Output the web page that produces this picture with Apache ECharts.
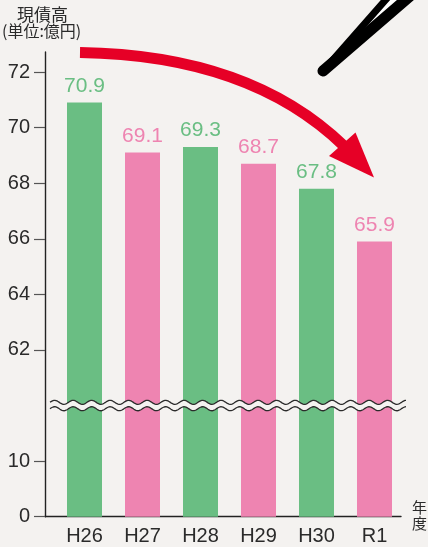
<!DOCTYPE html>
<html>
<head>
<meta charset="utf-8">
<script src="https://cdn.jsdelivr.net/npm/echarts@6/dist/echarts.min.js"></script>
<style>
  html, body { margin: 0; padding: 0; background: #f4f2f0; }
  #chart { width: 428px; height: 547px; }
</style>
</head>
<body>
<div id="chart"></div>
<script>
// ---- data ----
const categories = ['H26', 'H27', 'H28', 'H29', 'H30', 'R1'];
const values = [70.9, 69.1, 69.3, 68.7, 67.8, 65.9];
const barColors = ['#6abe83', '#ee84b1', '#6abe83', '#ee84b1', '#6abe83', '#ee84b1'];
const yTickValues = [0, 10, 62, 64, 66, 68, 70, 72];
const yTitle = ['現債高', '(単位:億円)'];
const xTitle = ['年', '度'];

// ---- broken-axis mapping (lower part 0..10, upper part 62..) ----
const LOW_TOP = 10, UP_BASE = 62, UP_POS = 30, UP_SCALE = 5, BREAK_POS = 20;
function toAxis(v) { return v <= LOW_TOP ? v : UP_POS + UP_SCALE * (v - UP_BASE); }
function fromAxis(d) { return d <= LOW_TOP ? d : UP_BASE + (d - UP_POS) / UP_SCALE; }

const BG = '#f4f2f0';
const chart = echarts.init(document.getElementById('chart'), null, { renderer: 'canvas' });

const barData = values.map((v, i) => ({
  value: [i, toAxis(v)],
  itemStyle: { color: barColors[i] },
  label: { color: barColors[i] }
}));

const option = {
  backgroundColor: BG,
  animation: false,
  grid: { left: 45, right: 27, top: 52, bottom: 30.3, containLabel: false },
  xAxis: {
    type: 'value',
    min: -0.681,
    max: 5.457,
    axisLine: { show: true, onZero: false, lineStyle: { color: '#222', width: 1.4 } },
    axisTick: { show: false },
    splitLine: { show: false },
    axisLabel: {
      customValues: categories.map((c, i) => i),
      formatter: v => categories[Math.round(v)],
      fontFamily: 'Liberation Sans, Arial, sans-serif',
      fontSize: 20,
      color: '#2a2a2a',
      margin: 10
    }
  },
  yAxis: {
    type: 'value',
    min: 0,
    max: 83.6,
    axisLine: { show: true, onZero: false, lineStyle: { color: '#222', width: 1.4 } },
    axisTick: {
      show: true, length: 11, customValues: yTickValues.map(toAxis),
      lineStyle: { color: '#555', width: 1.2 }
    },
    splitLine: { show: false },
    axisLabel: {
      customValues: yTickValues.map(toAxis),
      formatter: d => String(Math.round(fromAxis(d))),
      fontFamily: 'Liberation Sans, Arial, sans-serif',
      fontSize: 20,
      color: '#2a2a2a',
      margin: 15
    }
  },
  series: [
    {
      type: 'bar',
      barWidth: 35,
      data: barData,
      label: {
        show: true,
        position: 'top',
        distance: 6,
        formatter: p => values[p.dataIndex].toFixed(1),
        fontFamily: 'Liberation Sans, Arial, sans-serif',
        fontSize: 21
      },
      z: 2
    },
    {
      type: 'custom',
      clip: false,
      z: 5,
      data: [[0, BREAK_POS]],
      renderItem: function (params, api) {
        const yc = api.coord([0, BREAK_POS])[1];
        const xs = api.coord([-0.595, 0])[0];
        const xe = api.coord([5.56, 0])[0];
        const period = 18.5, amp = 2, half = 3.2;
        const up = [], lo = [];
        for (let x = xs; x <= xe + 0.01; x += 1) {
          const w = amp * Math.sin((x - xs) / period * 2 * Math.PI + Math.PI);
          up.push([x, yc - half + w]);
          lo.push([x, yc + half + w]);
        }
        return {
          type: 'group',
          children: [
            { type: 'polygon', shape: { points: up.concat(lo.slice().reverse()) }, style: { fill: BG } },
            { type: 'polyline', shape: { points: up }, style: { stroke: '#2b2b2b', lineWidth: 1.3, fill: null } },
            { type: 'polyline', shape: { points: lo }, style: { stroke: '#2b2b2b', lineWidth: 1.3, fill: null } }
          ]
        };
      }
    }
  ],
  graphic: [
    { type: 'text', left: 17, top: 6, style: { text: yTitle[0], font: '17px "Noto Sans CJK JP", sans-serif', fill: '#2a2a2a' } },
    { type: 'text', left: 2, top: 23, style: { text: yTitle[1], font: '16px "Noto Sans CJK JP", sans-serif', fill: '#2a2a2a' } },
    { type: 'text', left: 412, top: 500, style: { text: xTitle[0], font: '15px "Noto Sans CJK JP", sans-serif', fill: '#2a2a2a' } },
    { type: 'text', left: 412, top: 516, style: { text: xTitle[1], font: '15px "Noto Sans CJK JP", sans-serif', fill: '#2a2a2a' } },
    // red arrow
    { type: 'bezierCurve', z: 10, shape: { x1: 80, y1: 52.5, cpx1: 250, cpy1: 55, x2: 344, y2: 146 },
      style: { stroke: '#e60026', lineWidth: 11, fill: null, lineCap: 'butt' } },
    { type: 'polygon', z: 10, shape: { points: [[374, 177.5], [329, 156], [355.5, 132.5]] },
      style: { fill: '#e60026' } },
    // pencil tip
    { type: 'polygon', z: 10, shape: { points: [[338, 56], [390, -4], [406, -4]] }, style: { fill: '#ffffff' } },
    { type: 'line', z: 11, shape: { x1: 323, y1: 71, x2: 389, y2: -4 }, style: { stroke: '#000', lineWidth: 7, lineCap: 'round' } },
    { type: 'line', z: 11, shape: { x1: 323, y1: 71, x2: 410, y2: -4 }, style: { stroke: '#000', lineWidth: 11, lineCap: 'round' } }
  ]
};
chart.setOption(option);
</script>
</body>
</html>
